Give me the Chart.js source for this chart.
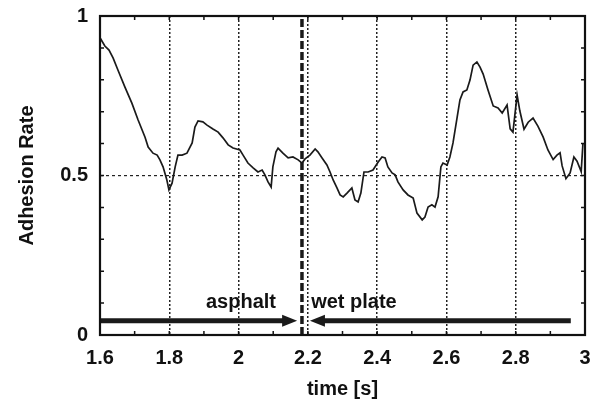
<!DOCTYPE html>
<html>
<head>
<meta charset="utf-8">
<script src="https://cdn.jsdelivr.net/npm/chart.js@4"></script>
<style>
  html, body { margin: 0; padding: 0; background: #fff; }
</style>
</head>
<body>
<canvas id="myChart" width="597" height="403"></canvas>
<script>
// adhesion rate trace, time in seconds
const timeS = [1.600, 1.614, 1.626, 1.638, 1.652, 1.672, 1.692, 1.710, 1.730, 1.739,
    1.753, 1.765, 1.773, 1.782, 1.793, 1.799, 1.808, 1.817, 1.825, 1.837,
    1.851, 1.866, 1.874, 1.883, 1.897, 1.909, 1.926, 1.941, 1.955, 1.970,
    1.984, 2.004, 2.013, 2.027, 2.042, 2.056, 2.068, 2.076, 2.085, 2.094,
    2.099, 2.108, 2.114, 2.128, 2.143, 2.157, 2.172, 2.183, 2.192, 2.206,
    2.221, 2.229, 2.241, 2.255, 2.264, 2.273, 2.284, 2.293, 2.302, 2.313,
    2.327, 2.336, 2.345, 2.353, 2.362, 2.374, 2.388, 2.403, 2.414, 2.423,
    2.431, 2.443, 2.452, 2.460, 2.475, 2.489, 2.504, 2.515, 2.530, 2.538,
    2.547, 2.558, 2.567, 2.576, 2.584, 2.590, 2.602, 2.610, 2.619, 2.631,
    2.639, 2.648, 2.659, 2.668, 2.677, 2.688, 2.697, 2.706, 2.720, 2.735,
    2.749, 2.761, 2.775, 2.784, 2.792, 2.804, 2.812, 2.824, 2.836, 2.850,
    2.864, 2.879, 2.893, 2.908, 2.919, 2.928, 2.934, 2.945, 2.957, 2.968,
    2.977, 2.989, 2.994]
const adhesion = [0.932, 0.906, 0.893, 0.868, 0.830, 0.777, 0.727, 0.674, 0.620, 0.589,
    0.570, 0.564, 0.549, 0.527, 0.486, 0.455, 0.476, 0.527, 0.564, 0.564,
    0.570, 0.602, 0.652, 0.671, 0.668, 0.658, 0.646, 0.636, 0.618, 0.596,
    0.586, 0.580, 0.564, 0.539, 0.524, 0.511, 0.517, 0.502, 0.480, 0.464,
    0.527, 0.574, 0.586, 0.570, 0.555, 0.558, 0.549, 0.539, 0.552, 0.564,
    0.583, 0.574, 0.555, 0.533, 0.511, 0.486, 0.461, 0.439, 0.433, 0.445,
    0.461, 0.423, 0.417, 0.445, 0.511, 0.511, 0.517, 0.542, 0.558, 0.555,
    0.527, 0.508, 0.502, 0.480, 0.455, 0.439, 0.429, 0.382, 0.361, 0.370,
    0.401, 0.408, 0.401, 0.433, 0.527, 0.539, 0.533, 0.558, 0.602, 0.683,
    0.737, 0.762, 0.768, 0.799, 0.846, 0.856, 0.840, 0.818, 0.768, 0.718,
    0.712, 0.696, 0.721, 0.646, 0.636, 0.752, 0.702, 0.645, 0.667, 0.680,
    0.655, 0.621, 0.580, 0.550, 0.564, 0.571, 0.530, 0.490, 0.508, 0.558,
    0.545, 0.512, 0.600]

const xTicks = [1.6, 1.8, 2, 2.2, 2.4, 2.6, 2.8, 3]
const yTicks = [0, 0.5, 1]

// road surface change and the two surface arrows
const boundaryTime = 2.183
const arrowLevel = 0.045
const asphaltArrow = [1.6, 2.169]
const wetArrow = [2.959, 2.206]
const surfaceNames = ['asphalt', 'wet plate']
const surfaceNameX = [2.007, 2.333]
const surfaceNameY = 0.103

const FONT = "'Liberation Sans', Arial, Helvetica, sans-serif"
Chart.defaults.font.family = FONT
Chart.defaults.color = '#111'

const xy = (xs, ys) => xs.map((x, i) => ({x: x, y: ys[i]}))

// frame, small inner ticks, arrow heads and surface names
const decorations = {
    id: 'decorations',
    afterDatasetsDraw(chart) {
        const ctx = chart.ctx
        const xs = chart.scales.x
        const ys = chart.scales.y
        const a = chart.chartArea
        ctx.save()

        ctx.strokeStyle = '#111'
        ctx.lineWidth = 1.5
        for (let i = 1; i < 14; i++) {
            const px = xs.getPixelForValue(1.6 + i * 0.1)
            ctx.beginPath()
            ctx.moveTo(px, a.bottom); ctx.lineTo(px, a.bottom - 4)
            ctx.moveTo(px, a.top); ctx.lineTo(px, a.top + 4)
            ctx.stroke()
        }
        for (let i = 1; i < 10; i++) {
            const py = ys.getPixelForValue(i * 0.1)
            ctx.beginPath()
            ctx.moveTo(a.left, py); ctx.lineTo(a.left + 4, py)
            ctx.moveTo(a.right, py); ctx.lineTo(a.right - 4, py)
            ctx.stroke()
        }

        ctx.lineWidth = 2.2
        ctx.strokeRect(a.left, a.top, a.right - a.left, a.bottom - a.top)

        // arrow heads
        ctx.fillStyle = '#1a1a1a'
        const ay = ys.getPixelForValue(arrowLevel)
        const head = (tip, dir) => {
            ctx.beginPath()
            ctx.moveTo(tip, ay)
            ctx.lineTo(tip - dir * 15, ay - 6)
            ctx.lineTo(tip - dir * 15, ay + 6)
            ctx.closePath()
            ctx.fill()
        }
        head(xs.getPixelForValue(asphaltArrow[1]), 1)
        head(xs.getPixelForValue(wetArrow[1]), -1)

        ctx.font = 'bold 20px ' + FONT
        ctx.textAlign = 'center'
        ctx.textBaseline = 'middle'
        ctx.fillStyle = '#111'
        surfaceNames.forEach((name, i) => {
            ctx.fillText(name, xs.getPixelForValue(surfaceNameX[i]), ys.getPixelForValue(surfaceNameY))
        })
        ctx.restore()
    }
}

const ctx = document.getElementById('myChart')

new Chart(ctx, {
    type: 'line',
    data: {
        datasets: [{
            label: 'adhesion',
            data: xy(timeS, adhesion),
            borderColor: '#1a1a1a',
            borderWidth: 1.7,
            pointRadius: 0,
            tension: 0
        }, {
            label: 'boundary',
            data: xy([boundaryTime, boundaryTime], [0, 1]),
            borderColor: '#1a1a1a',
            borderWidth: 3.5,
            borderDash: [8, 3],
            pointRadius: 0
        }, {
            label: 'asphalt',
            data: xy([asphaltArrow[0], asphaltArrow[1] - 0.03], [arrowLevel, arrowLevel]),
            borderColor: '#1a1a1a',
            borderWidth: 5,
            pointRadius: 0
        }, {
            label: 'wet plate',
            data: xy([wetArrow[1] + 0.03, wetArrow[0]], [arrowLevel, arrowLevel]),
            borderColor: '#1a1a1a',
            borderWidth: 5,
            pointRadius: 0
        }]
    },
    options: {
        responsive: false,
        animation: false,
        devicePixelRatio: 1,
        layout: { padding: { left: 0, right: 12, top: 16, bottom: 0 } },
        plugins: { legend: { display: false }, tooltip: { enabled: false } },
        scales: {
            x: {
                type: 'linear',
                min: 1.6,
                max: 3,
                afterBuildTicks: s => { s.ticks = xTicks.map(v => ({value: v})) },
                afterFit: s => {
                    s.height = 68
                    s.paddingLeft = 0
                    s.paddingRight = 0
                },
                ticks: {
                    callback: v => String(v),
                    padding: 11,
                    maxRotation: 0,
                    autoSkip: false,
                    font: { size: 20, weight: 'bold' }
                },
                grid: {
                    drawTicks: false,
                    lineWidth: 1.5,
                    color: c => (c.tick && c.tick.value > 1.6 && c.tick.value < 3) ? '#222' : 'rgba(0,0,0,0)'
                },
                border: { display: false, dash: [2, 2] },
                title: {
                    display: true,
                    text: 'time [s]',
                    font: { size: 20, weight: 'bold' },
                    padding: { top: 0, bottom: 2 }
                }
            },
            y: {
                min: 0,
                max: 1,
                afterBuildTicks: s => { s.ticks = yTicks.map(v => ({value: v})) },
                afterFit: s => {
                    s.width = 100
                    s.paddingTop = 0
                    s.paddingBottom = 0
                },
                ticks: {
                    callback: v => String(v),
                    padding: 12,
                    font: { size: 20, weight: 'bold' }
                },
                grid: {
                    drawTicks: false,
                    lineWidth: 1.2,
                    color: c => (c.tick && c.tick.value === 0.5) ? '#222' : 'rgba(0,0,0,0)'
                },
                border: { display: false, dash: [3, 3] },
                title: {
                    display: true,
                    text: 'Adhesion Rate',
                    font: { size: 20, weight: 'bold' },
                    padding: { top: 15, bottom: 0 }
                }
            }
        }
    },
    plugins: [decorations]
})
</script>
</body>
</html>
